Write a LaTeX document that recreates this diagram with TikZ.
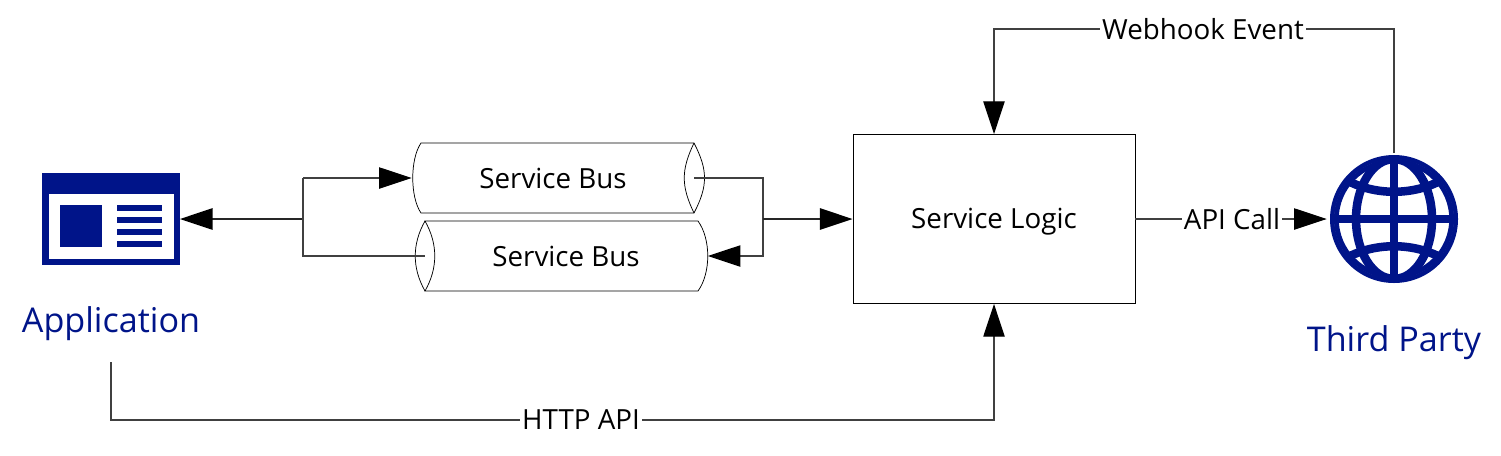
\documentclass[tikz,border=0pt]{standalone}
\usepackage{fontspec}
\setmainfont{Open Sans}
\usetikzlibrary{arrows.meta}
\definecolor{navy}{RGB}{0,20,137}
\tikzset{
  conn/.style={draw=black!75,line width=0.8pt,-{Triangle[length=24.5pt,width=16pt,fill=black,color=black]}},
  trunk/.style={draw=black!85,line width=1.3pt,-{Triangle[length=24.5pt,width=16pt,fill=black,color=black]}},
  plain/.style={draw=black!75,line width=0.8pt},
  lbl/.style={font=\fontsize{20.8pt}{24pt}\selectfont,inner sep=1.5pt,fill=white},
  buslbl/.style={font=\fontsize{20.8pt}{24pt}\selectfont,inner sep=0pt},
  biglbl/.style={font=\fontsize{25.6pt}{30pt}\selectfont,text=navy,inner sep=0pt},
  outline/.style={draw=black,line width=0.55pt},
  navyfill/.style={fill=navy,draw=none},
  gl/.style={draw=navy,line width=6.4pt},
  box/.style={draw=black,line width=0.7pt,fill=white,inner sep=0pt,minimum width=211.5pt,minimum height=126.75pt},
  ghost/.style={inner sep=0pt,minimum height=52.5pt}
}
\begin{document}
\begin{tikzpicture}[x=0.75pt,y=-0.75pt]
\useasboundingbox (0,0) rectangle (1501,455);
% application icon
\node[navyfill,inner sep=0pt,minimum width=103pt,minimum height=69.5pt] (app) at (111,219) {};
\fill[white] (48.7,193.7) rectangle (173.7,259);
\fill[navy] (60.3,205.3) rectangle (102.3,247.3);
\foreach \yy in {205.3,217.3,229.3,241.3}{\fill[navy] (117,\yy) rectangle (162,\yy+6);}
\node[biglbl] (applbl) at (111,323.5) {Application};
% third party globe
\node[circle,navyfill,inner sep=0pt,minimum size=96pt] (globe) at (1394,219) {};
\begin{scope}
\clip (1394,219) circle (60);
\draw[gl,fill=white] (1394,219) circle (59.5);
\draw[gl] (1394,219) ellipse (38 and 60);
\draw[gl] (1394,155) -- (1394,283);
\draw[gl] (1330,219) -- (1458,219);
\draw[gl] (1340,176) .. controls (1370,197) and (1418,197) .. (1448,176);
\draw[gl] (1340,262) .. controls (1370,241) and (1418,241) .. (1448,262);
\end{scope}
\node[biglbl] (tplbl) at (1394,342.5) {Third Party};
% service bus top
\node[ghost,minimum width=219pt] (busa) at (558,178) {};
\coordinate (busaout) at (694,178);
\draw[outline,fill=white] (421,143) -- (694,143) .. controls (708,170) and (708,186) .. (694,213) -- (421,213) .. controls (410,197) and (410,159) .. (421,143) -- cycle;
\draw[outline] (694,143) .. controls (681,170) and (681,186) .. (694,213);
\node[buslbl] (busatxt) at (553,178) {Service Bus};
% service bus bottom
\node[ghost,minimum width=219pt] (busb) at (561.5,256) {};
\coordinate (busbout) at (425,256);
\draw[outline,fill=white] (425,221) -- (698,221) .. controls (711,239) and (711,273) .. (698,291) -- (425,291) .. controls (438,268) and (438,244) .. (425,221) -- cycle;
\draw[outline] (425,221) .. controls (412,244) and (412,268) .. (425,291);
\node[buslbl] (busbtxt) at (566,256) {Service Bus};
% logic
\node[box] (logic) at (994,219) {};
\node[buslbl] (logictxt) at (994,222) {Service Logic};
% junctions
\coordinate (jl) at (303,219);
\coordinate (jr) at (763,219);
\coordinate (jla) at (303,178);
\coordinate (jlb) at (303,256);
\coordinate (jra) at (763,178);
\coordinate (jrb) at (763,256);
\coordinate (hookup) at (1394,153);
\coordinate (hookc) at (1394,29);
\coordinate (hookd) at (994,29);
\coordinate (httpa) at (111,362);
\coordinate (httpb) at (111,420);
\coordinate (httpc) at (994,420);
% connectors
\draw[trunk] (jl) -- (app.east);
\draw[plain] (jl) -- (jla);
\draw[conn] (jla) -- (busa.west);
\draw[plain] (jl) -- (jlb) -- (busbout);
\draw[plain] (busaout) -- (jra) -- (jr);
\draw[conn] (jra) -- (jrb) -- (busb.east);
\draw[trunk] (jr) -- (logic.west);
\draw[conn] (hookup) -- (hookc) -- (hookd) -- (logic.north);
\draw[conn] (httpa) -- (httpb) -- (httpc) -- (logic.south);
\draw[conn] (logic.east) -- ([xshift=-2.25pt]globe.west);
% connector labels
\node[lbl] (wh) at (1203,29) {Webhook Event};
\node[lbl] (api) at (1232,219) {API Call};
\node[lbl] (http) at (581,420) {HTTP API};
\end{tikzpicture}
\end{document}
